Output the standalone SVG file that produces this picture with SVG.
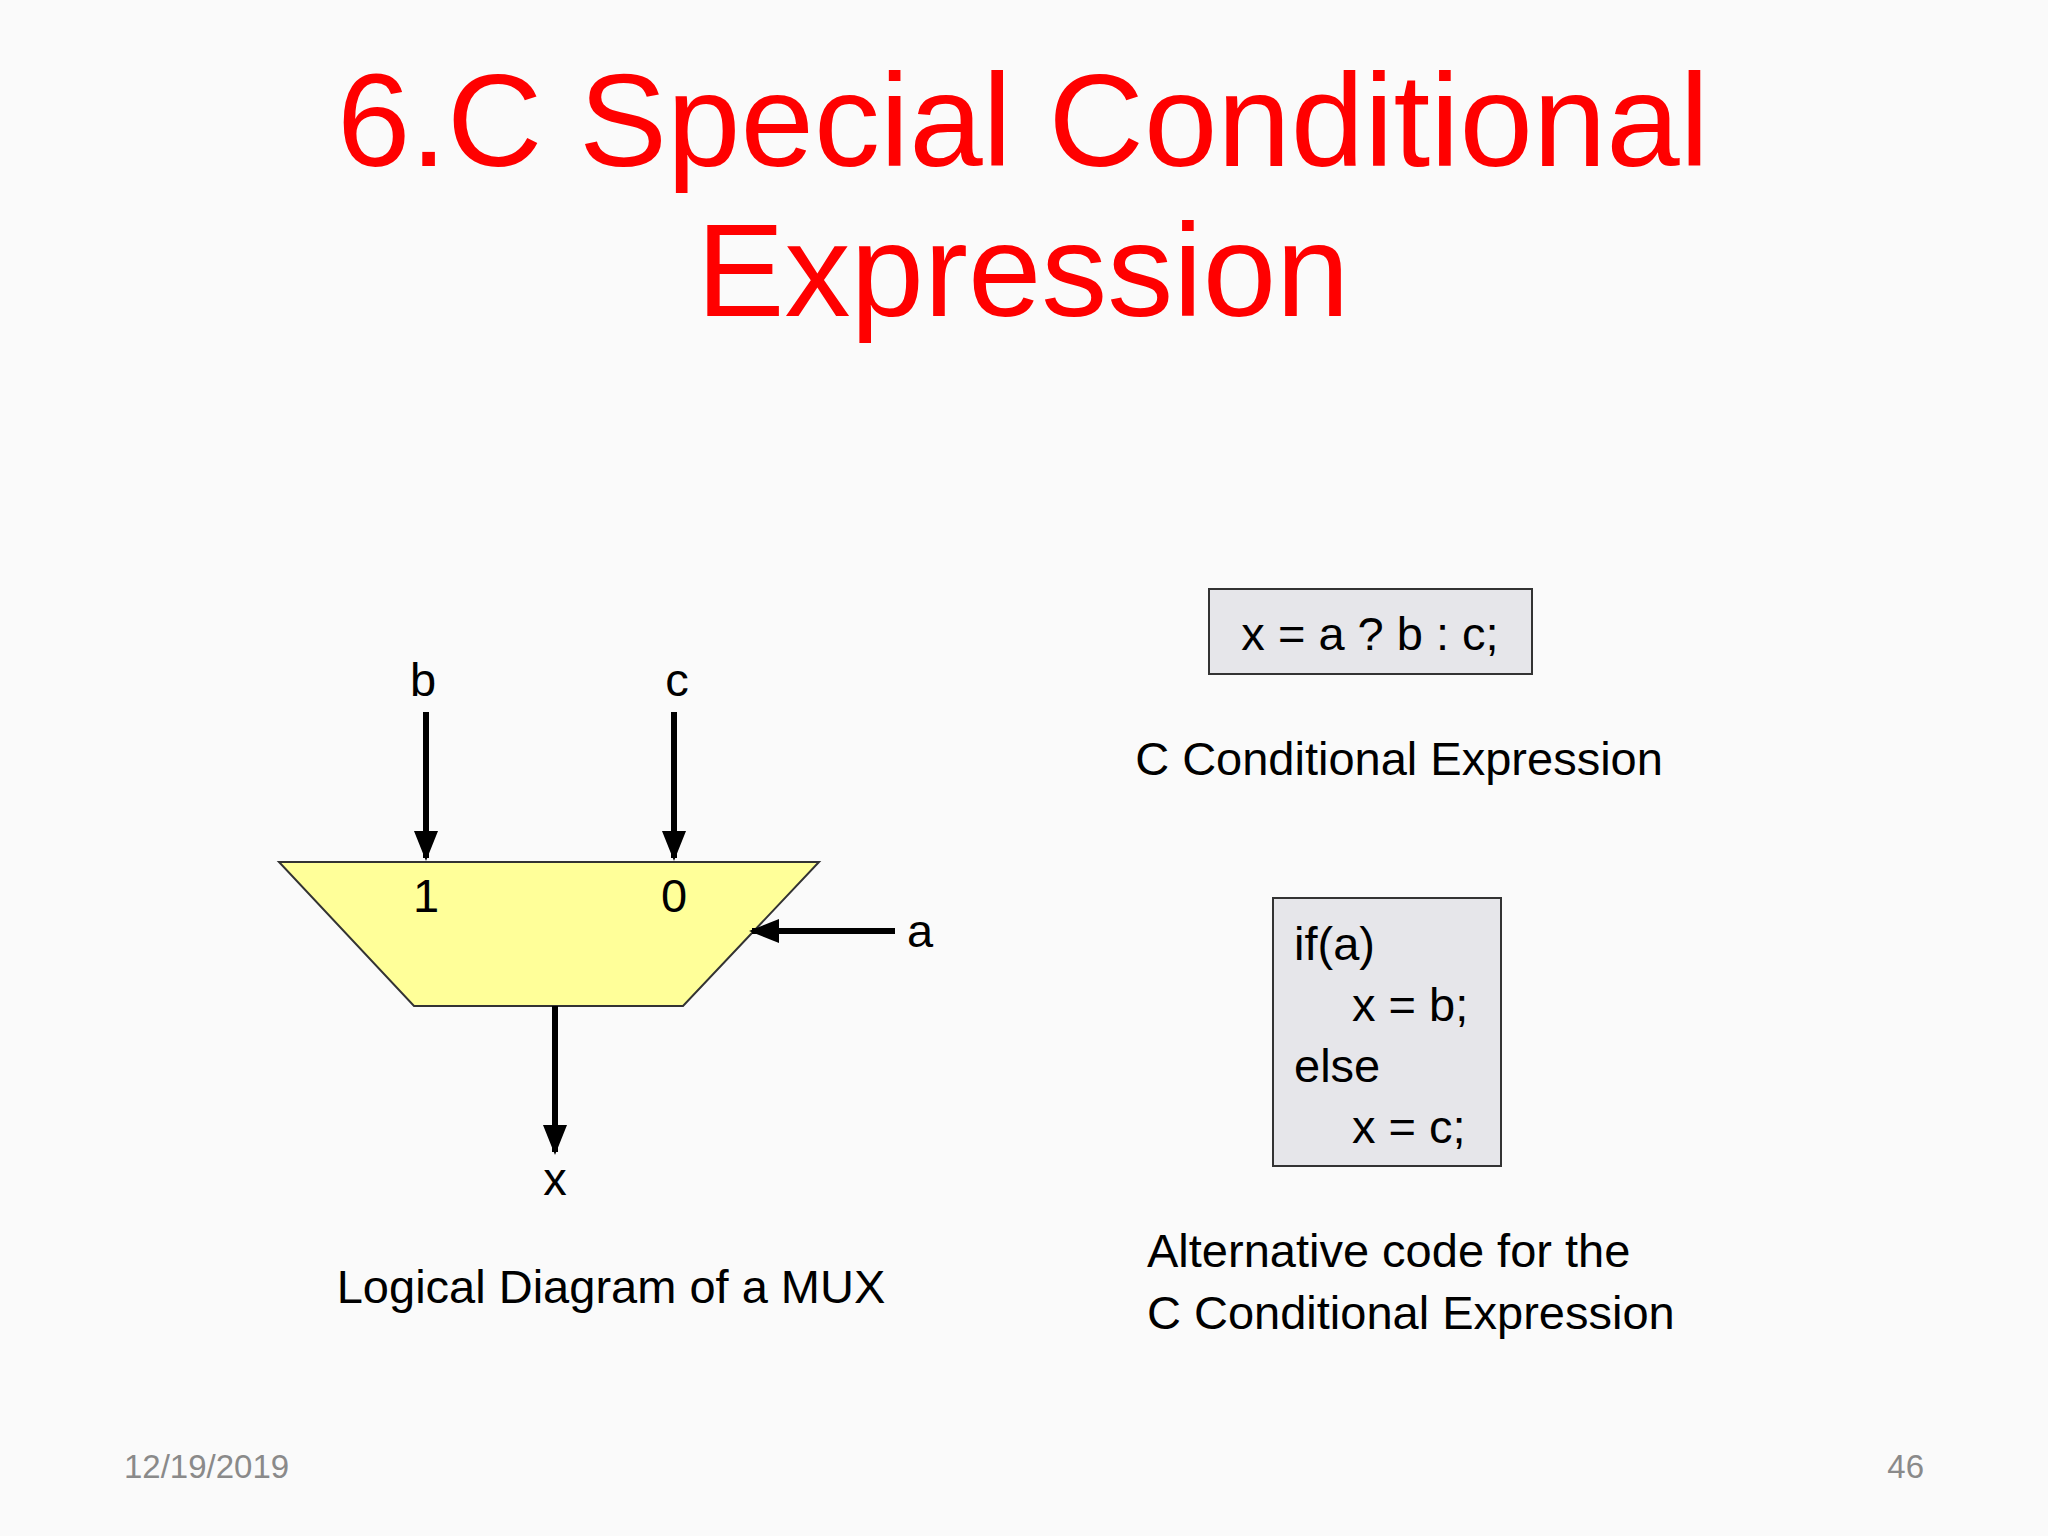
<svg xmlns="http://www.w3.org/2000/svg" width="2048" height="1536" viewBox="0 0 2048 1536">
<defs>
<marker id="ah" viewBox="0 0 10 10" refX="9" refY="5" markerWidth="5" markerHeight="5" orient="auto" markerUnits="strokeWidth"><path d="M0,1 L10,5 L0,9 Z" fill="#000"/></marker>
</defs>
<style>
text{font-family:"Liberation Sans",Arial,sans-serif;fill:#000}
.t{fill:#ff0000;font-size:132px;text-anchor:middle}
.l{font-size:47px}
.m{text-anchor:middle}
.ar{stroke:#000;stroke-width:6;fill:none;marker-end:url(#ah)}
.box{fill:#e6e6ea;stroke:#333;stroke-width:2}
.f{font-size:33px;fill:#8a8a8a}
</style>
<rect width="2048" height="1536" fill="#fafafa"/>
<g id="title">
<text class="t" x="1023" y="166">6.C Special Conditional</text>
<text class="t" x="1023" y="316">Expression</text>
</g>
<g id="mux">
<polygon points="279,862 819,862 683,1006 414,1006" fill="#ffff99" stroke="#333" stroke-width="2"/>
<text class="l m" x="426" y="912">1</text>
<text class="l m" x="674" y="912">0</text>
</g>
<g id="connectors">
<line class="ar" x1="426" y1="712" x2="426" y2="858"/>
<line class="ar" x1="674" y1="712" x2="674" y2="858"/>
<line class="ar" x1="895" y1="931" x2="752" y2="931"/>
<line class="ar" x1="555" y1="1006" x2="555" y2="1152"/>
</g>
<g id="labels">
<text class="l m" x="423" y="696">b</text>
<text class="l m" x="677" y="696">c</text>
<text class="l" x="907" y="947">a</text>
<text class="l m" x="555" y="1195">x</text>
<text class="l m" x="611" y="1303">Logical Diagram of a MUX</text>
</g>
<g id="code1">
<rect class="box" x="1209" y="589" width="323" height="85"/>
<text class="l m" x="1370" y="650">x = a ? b : c;</text>
<text class="l m" x="1399" y="775">C Conditional Expression</text>
</g>
<g id="code2">
<rect class="box" x="1273" y="898" width="228" height="268"/>
<text class="l" x="1294" y="960">if(a)</text>
<text class="l" x="1352" y="1021">x = b;</text>
<text class="l" x="1294" y="1082">else</text>
<text class="l" x="1352" y="1143">x = c;</text>
<text class="l" x="1147" y="1267">Alternative code for the</text>
<text class="l" x="1147" y="1329">C Conditional Expression</text>
</g>
<g id="footer">
<text class="f" x="124" y="1478">12/19/2019</text>
<text class="f" x="1924" y="1478" text-anchor="end">46</text>
</g>
</svg>
